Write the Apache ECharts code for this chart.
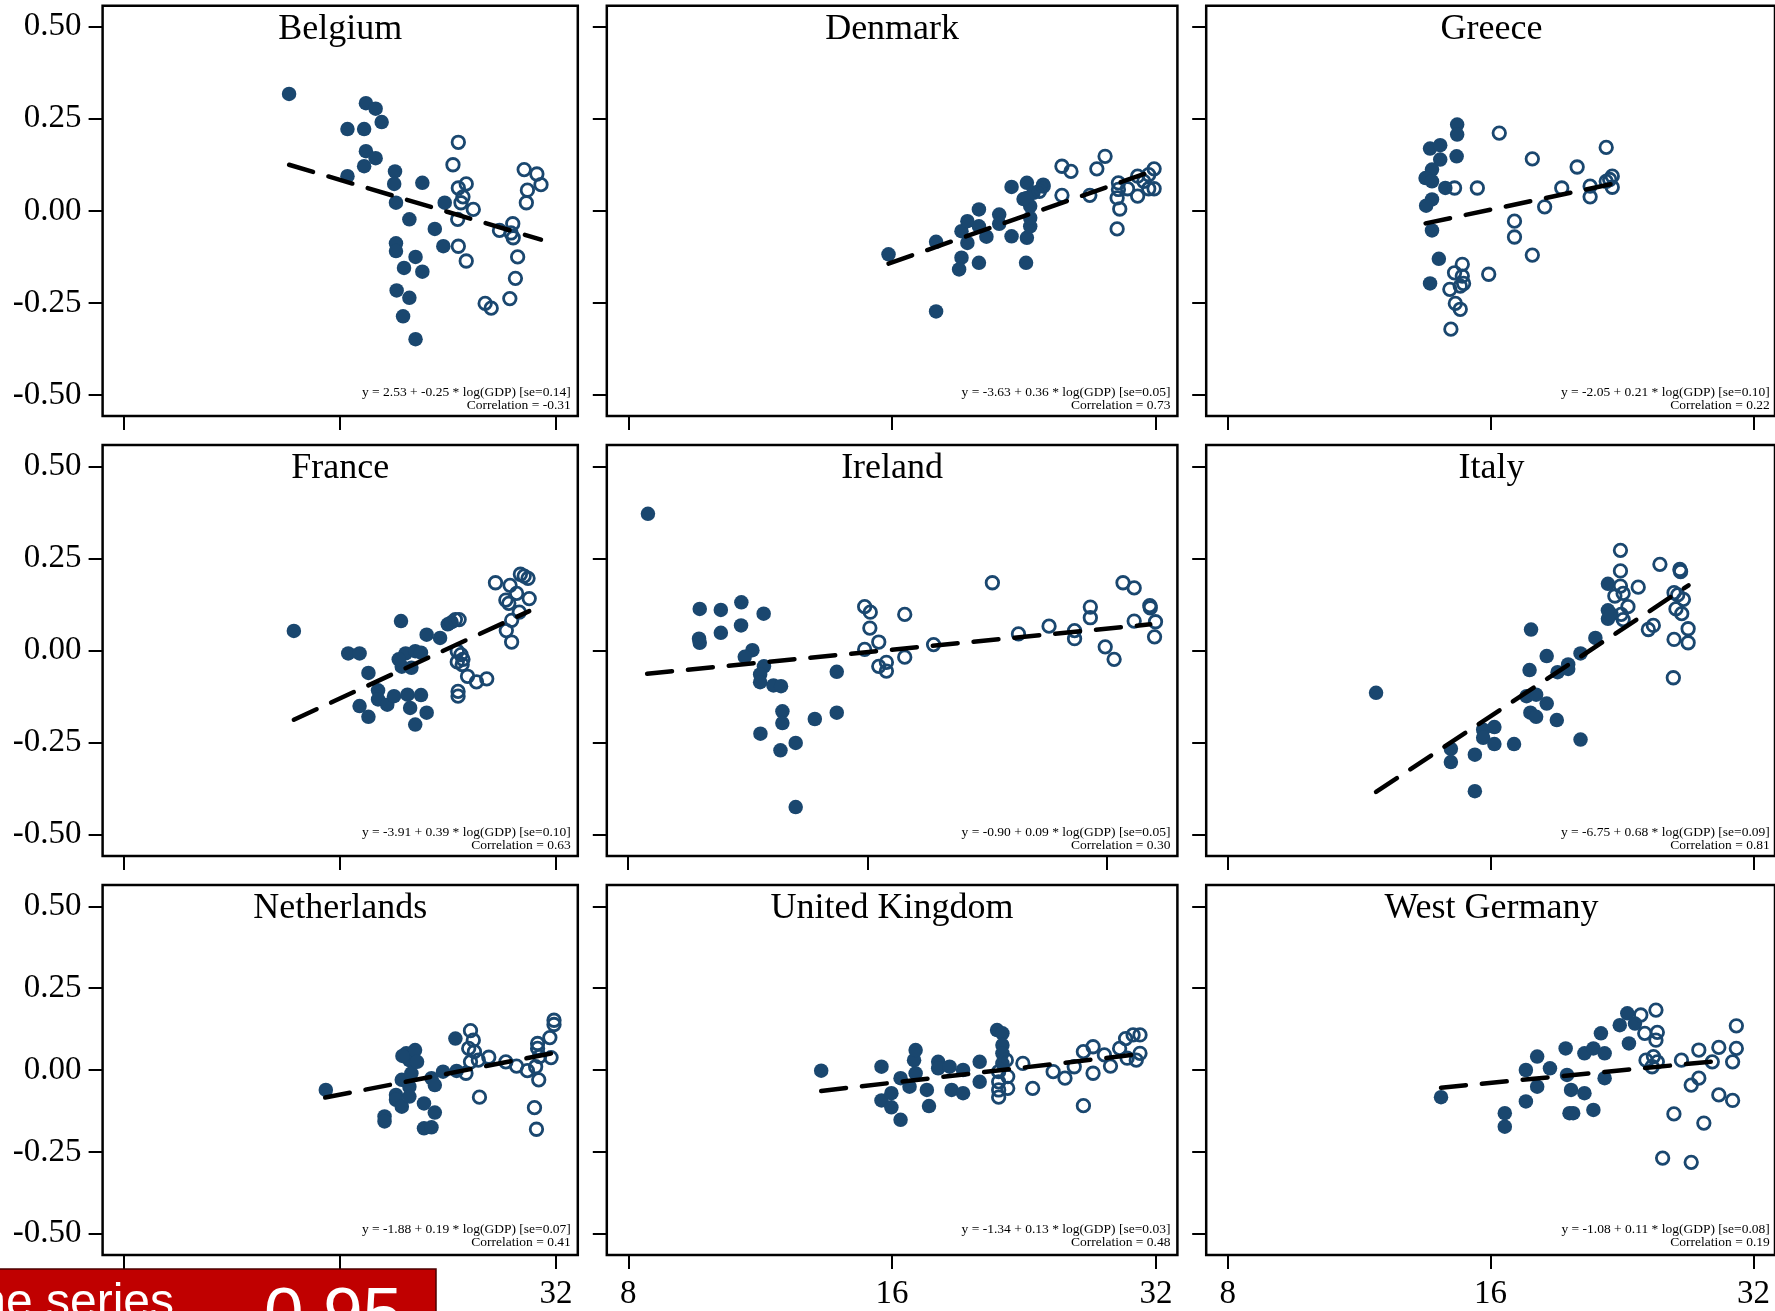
<!DOCTYPE html>
<html><head><meta charset="utf-8">
<script src="https://cdn.jsdelivr.net/npm/echarts@6/dist/echarts.min.js"></script>
<style>html,body{margin:0;padding:0;background:#fff}#c{width:1775px;height:1311px}</style>
</head><body><div id="c"></div>
<script>
// ---------------- DATA ----------------
const countries = ['Belgium','Denmark','Greece','France','Ireland','Italy','Netherlands','United Kingdom','West Germany'];
const xTickValues = [8, 16, 32];
const yTickValues = [-0.5, -0.25, 0, 0.25, 0.5];

// [GDP (thousands), value]  filled = earlier period, hollow = later period
const belgiumFilled = [[13.6,0.317],[17.4,0.292],[17.95,0.277],[18.3,0.241],[16.4,0.222],[17.3,0.222],[17.4,0.162],[17.95,0.143],[17.3,0.121],[16.4,0.094],[19.1,0.107],[19.05,0.073],[20.85,0.076],[19.16,0.022],[22.4,0.022],[20.0,-0.023],[21.7,-0.049],[19.16,-0.088],[19.16,-0.109],[22.3,-0.096],[20.4,-0.125],[19.66,-0.155],[20.85,-0.165],[19.2,-0.216],[20.0,-0.236],[19.6,-0.286],[20.4,-0.348]];
const belgiumHollow = [[23.4,0.186],[23.0,0.125],[24.0,0.073],[23.4,0.062],[23.75,0.038],[23.6,0.022],[24.55,0.004],[23.35,-0.023],[23.4,-0.096],[24.0,-0.136],[25.5,-0.251],[26.0,-0.264],[26.7,-0.053],[27.86,-0.035],[27.7,-0.060],[27.9,-0.073],[28.3,-0.125],[28.1,-0.183],[27.6,-0.238],[28.9,0.112],[30.1,0.100],[30.5,0.071],[29.2,0.056],[29.1,0.022]];
const belgiumFit = [[13.6,0.125],[30.5,-0.078]];
const belgiumNote = ['y = 2.53 + -0.25 * log(GDP) [se=0.14]','Correlation = -0.31'];

const denmarkFilled = [[15.85,-0.118],[17.96,-0.084],[17.96,-0.273],[19.2,-0.127],[19.08,-0.159],[20.1,-0.141],[19.2,-0.055],[19.5,-0.028],[20.1,0.004],[20.1,-0.042],[19.5,-0.087],[20.5,-0.070],[21.2,-0.010],[21.2,-0.035],[21.9,-0.069],[22.8,-0.073],[22.75,-0.141],[21.9,0.065],[22.8,0.076],[22.8,0.035],[23.2,0.049],[23.0,0.013],[23.0,-0.042],[23.0,-0.019],[22.6,0.032],[23.8,0.071]];
const denmarkHollow = [[23.8,0.067],[23.56,0.053],[25.0,0.121],[25.6,0.107],[25.0,0.042],[27.4,0.114],[28.0,0.148],[26.9,0.042],[29.0,0.076],[29.0,0.058],[28.9,0.035],[29.1,0.005],[28.9,-0.049],[29.7,0.060],[30.5,0.094],[30.5,0.040],[31.4,0.098],[31.85,0.114],[31.4,0.060],[31.85,0.060],[31.0,0.080]];
const denmarkFit = [[15.85,-0.143],[31.9,0.110]];
const denmarkNote = ['y = -3.63 + 0.36 * log(GDP) [se=0.05]','Correlation = 0.73'];

const greeceFilled = [[14.65,0.234],[14.65,0.207],[14.63,0.148],[13.64,0.169],[14.01,0.178],[14.01,0.139],[13.71,0.112],[13.48,0.089],[13.71,0.080],[14.2,0.062],[13.71,0.031],[13.5,0.014],[13.71,-0.053],[13.96,-0.130],[13.64,-0.197]];
const greeceHollow = [[14.55,0.062],[15.45,0.062],[16.37,0.211],[14.85,-0.145],[14.55,-0.168],[14.85,-0.177],[14.9,-0.197],[14.37,-0.213],[14.77,-0.204],[14.58,-0.251],[14.77,-0.267],[14.41,-0.321],[15.92,-0.172],[17.04,-0.028],[17.04,-0.071],[17.86,-0.120],[17.86,0.141],[18.45,0.011],[19.3,0.062],[20.1,0.119],[20.8,0.067],[20.8,0.038],[21.7,0.172],[21.7,0.080],[22.05,0.094],[22.05,0.064],[21.9,0.085]];
const greeceFit = [[13.48,-0.034],[22.05,0.073]];
const greeceNote = ['y = -2.05 + 0.21 * log(GDP) [se=0.10]','Correlation = 0.22'];

const franceFilled = [[13.81,0.053],[16.44,-0.008],[17.05,-0.008],[17.54,-0.061],[17.05,-0.151],[17.54,-0.180],[18.09,-0.108],[18.09,-0.133],[18.63,-0.147],[19.04,-0.124],[19.47,0.080],[19.52,-0.044],[19.76,-0.008],[19.88,-0.120],[20.05,-0.156],[20.13,-0.047],[20.38,-0.201],[20.38,-0.002],[20.76,-0.006],[20.76,-0.121],[21.14,-0.169],[21.14,0.043],[22.07,0.034],[22.62,0.071],[22.9,0.077],[19.33,-0.024]];
const franceHollow = [[23.18,0.084],[23.46,0.084],[23.32,-0.002],[23.6,-0.011],[23.75,-0.024],[23.32,-0.031],[23.69,-0.038],[24.1,-0.070],[24.8,-0.085],[25.63,-0.077],[23.38,-0.111],[23.38,-0.124],[26.36,0.184],[27.62,0.177],[28.55,0.207],[28.9,0.202],[29.26,0.196],[28.21,0.155],[27.25,0.137],[27.51,0.128],[29.37,0.141],[28.45,0.104],[27.76,0.082],[27.29,0.054],[27.76,0.023]];
const franceFit = [[13.81,-0.188],[29.37,0.107]];
const franceNote = ['y = -3.91 + 0.39 * log(GDP) [se=0.10]','Correlation = 0.63'];

const irelandFilled = [[8.48,0.371],[9.85,0.113],[10.47,0.110],[11.11,0.131],[11.85,0.100],[11.1,0.068],[10.47,0.048],[9.83,0.032],[9.85,0.021],[11.47,0.001],[11.22,-0.017],[11.86,-0.043],[11.73,-0.065],[11.73,-0.086],[12.19,-0.095],[12.46,-0.097],[14.64,-0.058],[12.51,-0.165],[12.51,-0.197],[13.74,-0.186],[14.64,-0.169],[11.74,-0.226],[12.44,-0.271],[13.0,-0.251],[13.0,-0.425]];
const irelandHollow = [[15.87,0.119],[16.13,0.104],[16.11,0.061],[15.87,0.003],[16.53,0.023],[17.82,0.098],[16.53,-0.043],[16.9,-0.032],[16.9,-0.056],[17.82,-0.018],[19.37,0.016],[22.96,0.184],[24.76,0.045],[27.05,0.066],[29.12,0.054],[29.12,0.032],[30.48,0.118],[30.48,0.089],[31.82,0.010],[32.65,-0.024],[33.5,0.184],[34.6,0.170],[34.6,0.080],[36.2,0.122],[36.25,0.116],[36.8,0.078],[36.7,0.037]];
const irelandFit = [[8.46,-0.063],[36.25,0.071]];
const irelandNote = ['y = -0.90 + 0.09 * log(GDP) [se=0.05]','Correlation = 0.30'];

const italyFilled = [[11.83,-0.115],[14.41,-0.267],[14.41,-0.303],[15.35,-0.283],[15.35,-0.382],[15.69,-0.215],[15.69,-0.237],[16.16,-0.208],[16.16,-0.254],[17.02,-0.254],[17.8,0.057],[17.73,-0.053],[17.59,-0.124],[18.04,-0.120],[17.77,-0.169],[18.04,-0.180],[18.55,-0.144],[19.05,-0.189],[18.55,-0.015],[19.09,-0.059],[19.63,-0.038],[19.63,-0.050],[20.28,-0.008],[20.28,-0.242],[21.09,0.034],[21.8,0.181],[21.8,0.109],[21.8,0.086],[22.0,0.098]];
const italyHollow = [[22.53,0.272],[22.53,0.216],[22.53,0.175],[22.2,0.148],[22.69,0.155],[22.98,0.119],[22.57,0.098],[22.69,0.084],[23.61,0.172],[24.25,0.057],[24.57,0.068],[25.0,0.234],[26.35,0.220],[26.4,0.214],[25.95,0.157],[26.2,0.151],[26.6,0.139],[26.08,0.113],[26.48,0.100],[26.93,0.059],[25.95,0.030],[26.93,0.021],[25.9,-0.074]];
const italyFit = [[11.83,-0.384],[26.96,0.177]];
const italyNote = ['y = -6.75 + 0.68 * log(GDP) [se=0.09]','Correlation = 0.81'];

const netherlandsFilled = [[15.3,-0.061],[18.47,-0.142],[18.47,-0.157],[19.16,-0.076],[19.16,-0.091],[19.52,-0.112],[19.52,-0.030],[19.8,0.051],[20.0,0.030],[20.37,0.061],[20.13,-0.010],[20.0,-0.051],[20.0,-0.081],[20.5,0.025],[20.96,-0.102],[21.7,-0.130],[20.96,-0.178],[21.47,-0.175],[21.47,-0.025],[21.7,-0.046],[22.28,-0.005],[23.18,0.096],[23.27,-0.003],[19.56,0.043]];
const netherlandsHollow = [[24.33,0.120],[24.55,0.091],[24.19,0.066],[24.64,0.056],[24.33,0.025],[24.95,0.030],[25.8,0.039],[23.98,-0.010],[25.04,-0.083],[27.25,0.025],[28.2,0.012],[29.2,-0.002],[29.98,0.010],[30.17,0.081],[30.17,0.066],[30.36,0.041],[30.28,-0.030],[29.87,-0.115],[30.06,-0.181],[31.38,0.099],[31.5,0.038],[31.8,0.152],[31.8,0.139]];
const netherlandsFit = [[15.27,-0.084],[31.9,0.053]];
const netherlandsNote = ['y = -1.88 + 0.19 * log(GDP) [se=0.07]','Correlation = 0.41'];

const ukFilled = [[13.28,-0.002],[15.56,0.010],[15.56,-0.093],[15.97,-0.071],[15.97,-0.114],[16.36,-0.152],[16.36,-0.025],[16.75,-0.051],[16.95,0.030],[17.02,0.061],[17.02,-0.010],[17.53,-0.061],[17.63,-0.110],[18.06,0.025],[18.06,0.005],[18.61,0.010],[18.71,-0.061],[19.28,0.0],[19.28,-0.071],[20.14,0.025],[20.14,-0.036],[21.08,0.122],[21.38,0.112],[21.38,0.076],[21.38,0.051],[21.38,0.020]];
const ukHollow = [[21.17,-0.005],[21.17,-0.036],[21.17,-0.061],[21.17,-0.083],[21.6,0.030],[21.68,-0.020],[21.68,-0.056],[22.56,0.020],[23.15,-0.056],[24.43,-0.005],[25.2,-0.025],[25.82,0.010],[26.45,0.056],[27.13,0.071],[27.13,-0.010],[26.45,-0.109],[27.95,0.046],[28.4,0.012],[29.09,0.066],[29.55,0.096],[30.14,0.107],[30.69,0.107],[29.67,0.036],[30.69,0.051],[30.39,0.030]];
const ukFit = [[13.28,-0.064],[30.76,0.049]];
const ukNote = ['y = -1.34 + 0.13 * log(GDP) [se=0.03]','Correlation = 0.48'];

const westGermanyFilled = [[14.04,-0.083],[16.61,-0.132],[16.61,-0.173],[17.56,-0.096],[17.56,0.0],[18.09,0.041],[18.09,-0.051],[18.71,0.005],[19.5,0.066],[19.57,-0.015],[19.78,-0.061],[19.7,-0.132],[19.89,-0.132],[20.49,0.051],[20.98,0.066],[20.49,-0.071],[20.98,-0.122],[21.61,0.051],[21.61,-0.025],[21.4,0.112],[22.49,0.137],[22.94,0.173],[23.04,0.081],[23.41,0.142]];
const westGermanyHollow = [[23.77,0.168],[24.74,0.183],[24.02,0.112],[24.83,0.115],[24.74,0.091],[24.1,0.030],[24.58,0.041],[24.49,0.010],[24.83,0.025],[26.46,0.030],[25.94,-0.134],[25.18,-0.269],[27.15,-0.282],[27.15,-0.046],[27.7,-0.025],[28.07,-0.162],[27.7,0.061],[28.7,0.025],[29.2,0.069],[29.2,-0.076],[30.28,-0.093],[30.28,0.025],[30.58,0.066],[30.58,0.135]];
const westGermanyFit = [[14.04,-0.054],[29.8,0.030]];
const westGermanyNote = ['y = -1.08 + 0.11 * log(GDP) [se=0.08]','Correlation = 0.19'];

// ---------------- LAYOUT ----------------
const panels = [
  {f: belgiumFilled, h: belgiumHollow, fit: belgiumFit, note: belgiumNote},
  {f: denmarkFilled, h: denmarkHollow, fit: denmarkFit, note: denmarkNote},
  {f: greeceFilled, h: greeceHollow, fit: greeceFit, note: greeceNote},
  {f: franceFilled, h: franceHollow, fit: franceFit, note: franceNote},
  {f: irelandFilled, h: irelandHollow, fit: irelandFit, note: irelandNote},
  {f: italyFilled, h: italyHollow, fit: italyFit, note: italyNote},
  {f: netherlandsFilled, h: netherlandsHollow, fit: netherlandsFit, note: netherlandsNote},
  {f: ukFilled, h: ukHollow, fit: ukFit, note: ukNote},
  {f: westGermanyFilled, h: westGermanyHollow, fit: westGermanyFit, note: westGermanyNote}
];
const cols = [{left:102.6,width:475.2,lo:2.903,hi:5.101},{left:606.8,width:570.6,lo:2.9185,hi:5.0815},{left:1206.2,width:570.6,lo:2.9185,hi:5.0815}];
const rows = [{top:5.7,height:410.3,pad:0.5565,noteOff:4.5},{top:445,height:411,pad:0.558,noteOff:4.5},{top:885,height:371,pad:0.565,noteOff:7.5}];
const NAVY = '#1a476f';
const SERIF = '"Liberation Serif", "Times New Roman", serif';

const grid = [], xAxis = [], yAxis = [], series = [], graphic = [];
panels.forEach((p, i) => {
  const r = rows[Math.floor(i / 3)], c = cols[i % 3];
  const rowIdx = Math.floor(i / 3), colIdx = i % 3;
  let lo = c.lo, hi = c.hi;
  if (countries[i] === 'Ireland') { lo = 2.9124; hi = 5.293; }
  grid.push({left: c.left, top: r.top, width: c.width, height: r.height, show: true,
    borderColor: '#000', borderWidth: 2.5, backgroundColor: 'transparent', containLabel: false});
  xAxis.push({type: 'log', logBase: 2, gridIndex: i, position: 'bottom', min: Math.pow(2, lo), max: Math.pow(2, hi),
    axisLine: {show: false, onZero: false}, splitLine: {show: false},
    axisTick: {show: true, customValues: xTickValues, length: 14, lineStyle: {color: '#000', width: 2}},
    axisLabel: {show: rowIdx === 2, customValues: xTickValues, margin: 23,
      fontFamily: SERIF, fontSize: 33, color: '#000', formatter: v => String(Math.round(v))}});
  yAxis.push({type: 'value', gridIndex: i, position: 'left', min: -r.pad, max: r.pad,
    axisLine: {show: false, onZero: false}, splitLine: {show: false},
    axisTick: {show: true, customValues: yTickValues, length: 14, lineStyle: {color: '#000', width: 2}},
    axisLabel: {show: colIdx === 0, customValues: yTickValues, margin: 21, padding: [5, 0, 0, 0],
      fontFamily: SERIF, fontSize: 33, color: '#000', formatter: v => v.toFixed(2)}});
  series.push({type: 'scatter', xAxisIndex: i, yAxisIndex: i, data: p.f, symbol: 'circle', symbolSize: 14.5,
    itemStyle: {color: NAVY, opacity: 1}, z: 2, silent: true});
  series.push({type: 'scatter', xAxisIndex: i, yAxisIndex: i, data: p.h, symbol: 'circle', symbolSize: 12.5,
    itemStyle: {color: 'rgba(255,255,255,0)', borderColor: NAVY, borderWidth: 2.8, opacity: 1}, z: 3, silent: true});
  series.push({type: 'line', xAxisIndex: i, yAxisIndex: i, data: p.fit, symbol: 'none', z: 4, silent: true,
    lineStyle: {color: '#000', width: 4.5, type: [25, 16], cap: 'round'}});
  graphic.push({type: 'text', x: c.left + c.width / 2, y: r.top + 23.5, z: 10,
    style: {text: countries[i], font: '36px ' + SERIF, fill: '#000', align: 'center', verticalAlign: 'middle'}});
  graphic.push({type: 'text', x: c.left + c.width - 7, y: r.top + r.height - r.noteOff, z: 10,
    style: {text: p.note.join('\n'), font: '13.5px ' + SERIF, fill: '#000', align: 'right', verticalAlign: 'bottom', lineHeight: 12.6}});
});

// slide overlay at the bottom-left (red caption box, partly cut off)
graphic.push({type: 'rect', z: 20, shape: {x: -2, y: 1269, width: 438, height: 60},
  style: {fill: '#c00000', stroke: '#4a0000', lineWidth: 1.5}});
graphic.push({type: 'text', z: 21, x: 174, y: 1304,
  style: {text: 'ne series', font: '48px "Liberation Sans", Arial, sans-serif', fill: '#fff', align: 'right', verticalAlign: 'middle'}});
graphic.push({type: 'text', z: 21, x: 264, y: 1317,
  style: {text: '0.95', font: '71px "Liberation Sans", Arial, sans-serif', fill: '#fff', align: 'left', verticalAlign: 'middle'}});

const chart = echarts.init(document.getElementById('c'), null, {renderer: 'canvas'});
chart.setOption({animation: false, backgroundColor: '#fff', grid, xAxis, yAxis, series, graphic});
</script></body></html>
